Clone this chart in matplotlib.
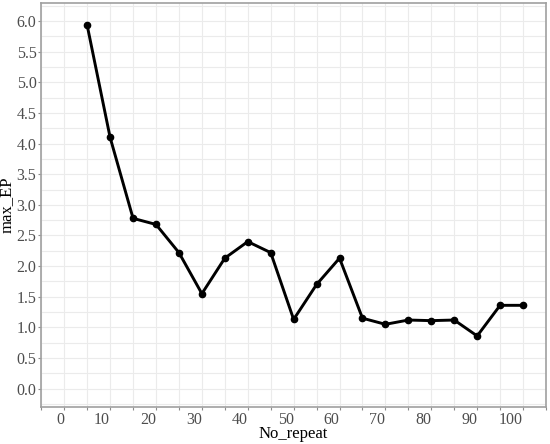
import matplotlib
matplotlib.use("Agg")
import matplotlib.pyplot as plt
from matplotlib.ticker import MultipleLocator

plt.rcParams['font.family'] = ['Liberation Serif', 'DejaVu Serif']

no_repeat = [5, 10, 15, 20, 25, 30, 35, 40, 45, 50,
             55, 60, 65, 70, 75, 80, 85, 90, 95, 100]
max_ep = [5.93, 4.10, 2.78, 2.68, 2.22, 1.55, 2.13, 2.40, 2.22, 1.13,
          1.70, 2.13, 1.15, 1.05, 1.12, 1.11, 1.12, 0.86, 1.36, 1.36]

x_ticks = [0, 10, 20, 30, 40, 50, 60, 70, 80, 90, 100]
y_ticks = [0.0, 0.5, 1.0, 1.5, 2.0, 2.5, 3.0, 3.5, 4.0, 4.5, 5.0, 5.5, 6.0]

fig = plt.figure(figsize=(5.5, 4.44), dpi=100)
ax = fig.add_axes([0.0751, 0.0833, 0.9176, 0.9106])

ax.plot(no_repeat, max_ep, color='black', lw=2.1, marker='o', ms=4.5, zorder=3)

ax.set_xlim(-5, 105)
ax.set_ylim(-0.3, 6.3)

ax.set_xticks(x_ticks)
ax.set_xticklabels([str(v) for v in x_ticks], ha='right')
ax.xaxis.set_minor_locator(MultipleLocator(5))
ax.set_yticks(y_ticks)
ax.set_yticklabels([f"{v:.1f}" for v in y_ticks])
ax.yaxis.set_minor_locator(MultipleLocator(0.25))

ax.grid(True, which='both', color='#EBEBEB', lw=0.8, zorder=0)
ax.set_axisbelow(True)

ax.tick_params(axis='both', which='major', length=2, width=0.8, color='#8C8C8C',
               labelsize=11.5, labelcolor='#4D4D4D', pad=1.5)
ax.tick_params(axis='x', which='minor', length=2, width=0.8, color='#8C8C8C')
ax.tick_params(axis='y', which='minor', length=0)

for s in ax.spines.values():
    s.set_color('#A0A0A0')
    s.set_linewidth(1.2)

# x title sits tight under the tick labels
ax.set_xlabel("No_repeat", fontsize=12, labelpad=-1)
ax.set_ylabel("max_EP", fontsize=12, labelpad=1)

fig.savefig("out.png", dpi=100)
